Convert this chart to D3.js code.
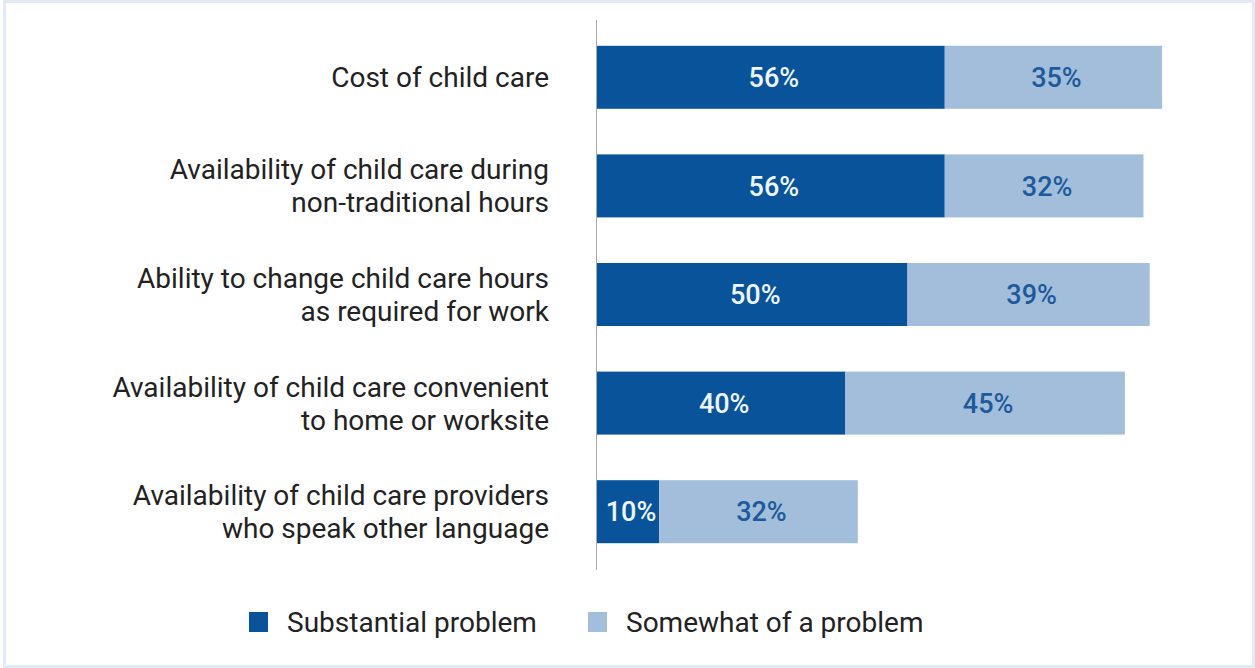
<!DOCTYPE html>
<html>
<head>
<meta charset="utf-8">
<script src="https://cdn.jsdelivr.net/npm/d3@7"></script>
<style>
  html, body { margin: 0; padding: 0; background: #fff; }
  svg { display: block; }
</style>
</head>
<body>
<svg id="chart" width="1255" height="668"></svg>
<script>
// Child care problems, share of respondents
const categories = [
  ["Cost of child care"],
  ["Availability of child care during", "non-traditional hours"],
  ["Ability to change child care hours", "as required for work"],
  ["Availability of child care convenient", "to home or worksite"],
  ["Availability of child care providers", "who speak other language"]
];
const substantial = [56, 56, 50, 40, 10];
const somewhat = [35, 32, 39, 45, 32];
const seriesNames = ["Substantial problem", "Somewhat of a problem"];
const colors = ["#08539a", "#a2bedb"];
const labelColors = ["#eef6ff", "#1d5a9b"];

const svg = d3.select("#chart");
const W = 1255, H = 668;
const font = "Roboto, 'Noto Sans', sans-serif";

// light frame around the panel
svg.append("rect")
  .attr("x", 4.5).attr("y", 1.5)
  .attr("width", W - 6).attr("height", H - 3)
  .attr("fill", "#fff")
  .attr("stroke", "#e2eaf5").attr("stroke-width", 3);

const x = d3.scaleLinear().domain([0, 100]).range([597, 1218]);
const y = d3.scaleBand()
  .domain(d3.range(categories.length))
  .range([23, 566])
  .paddingInner(0.42).paddingOuter(0.21);

const rows = d3.range(categories.length).map(i => ({
  i, a: substantial[i], b: somewhat[i]
}));
const stack = d3.stack().keys(["a", "b"])(rows);

const layers = svg.append("g").selectAll("g")
  .data(stack).join("g")
  .attr("fill", (d, k) => colors[k]);

layers.selectAll("rect")
  .data(d => d).join("rect")
  .attr("x", d => x(d[0]))
  .attr("y", d => y(d.data.i))
  .attr("width", d => x(d[1]) - x(d[0]))
  .attr("height", y.bandwidth());

layers.each(function(layer, k) {
  d3.select(this).selectAll("text")
    .data(layer).join("text")
    .attr("x", d => (x(d[0]) + x(d[1])) / 2 + 3)
    .attr("y", d => y(d.data.i) + y.bandwidth() / 2)
    .attr("dy", "0.36em")
    .attr("text-anchor", "middle")
    .attr("fill", labelColors[k])
    .attr("font-family", font)
    .attr("font-size", 27)
    .attr("font-weight", 500)
    .text(d => (d[1] - d[0]) + "%");
});

// vertical baseline
svg.append("line")
  .attr("x1", x(0) - 0.5).attr("x2", x(0) - 0.5)
  .attr("y1", 20).attr("y2", 570)
  .attr("stroke", "#a9a9a9").attr("stroke-width", 1);

// category labels, right aligned against the baseline
const lineH = 33;
svg.append("g").selectAll("text")
  .data(categories).join("text")
  .attr("text-anchor", "end")
  .attr("font-family", font)
  .attr("font-size", 28)
  .attr("fill", "#222")
  .attr("transform", (d, i) => {
    const cy = y(i) + y.bandwidth() / 2 - (d.length - 1) * lineH / 2;
    return `translate(549,${cy})`;
  })
  .each(function(lines) {
    d3.select(this).selectAll("tspan")
      .data(lines).join("tspan")
      .attr("x", 0)
      .attr("y", (l, j) => j * lineH)
      .attr("dy", "0.36em")
      .text(l => l);
  });

// legend
const legendX = [249, 588];
const legend = svg.append("g").selectAll("g")
  .data(seriesNames).join("g")
  .attr("transform", (d, k) => `translate(${legendX[k]},622)`);
legend.append("rect")
  .attr("x", 0).attr("y", -10)
  .attr("width", 19).attr("height", 20)
  .attr("fill", (d, k) => colors[k]);
legend.append("text")
  .attr("x", 38).attr("dy", "0.36em")
  .attr("font-family", font)
  .attr("font-size", 28)
  .attr("fill", "#222")
  .text(d => d);
</script>
</body>
</html>
